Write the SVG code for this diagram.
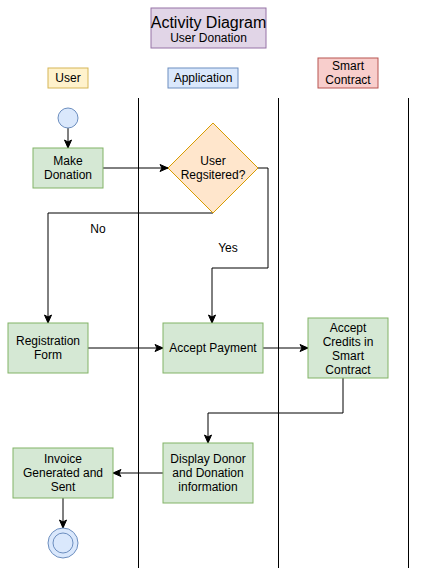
<svg xmlns="http://www.w3.org/2000/svg" width="422" height="582" viewBox="0 0 422 582">
<defs>
<style>
text{font-family:"Liberation Sans",Arial,sans-serif;font-size:12px;fill:#000;text-anchor:middle;dominant-baseline:central}
.act{fill:#d5e8d4;stroke:#82b366;stroke-width:1}
.lane{stroke:#000;stroke-width:1;fill:none}
.edge{stroke:#000;stroke-width:1;fill:none;marker-end:url(#arr)}
</style>
<marker id="arr" viewBox="0 0 10 10" refX="9" refY="5" markerWidth="10" markerHeight="10" markerUnits="userSpaceOnUse" orient="auto">
<path d="M1,1.5 L9,5 L1,8.5 L3,5 z" fill="#000" stroke="#000" stroke-width="1"/>
</marker>
</defs>
<rect width="422" height="582" fill="#fff"/>
<g id="title">
<rect x="151" y="8" width="115" height="40" fill="#e1d5e7" stroke="#9673a6"/>
<text x="208.5" y="22" style="font-size:16px">Activity Diagram</text>
<text x="208.5" y="37.5">User Donation</text>
</g>
<g id="lane-user">
<rect x="48" y="68" width="40" height="20" fill="#fff2cc" stroke="#d6b656"/>
<text x="68" y="78">User</text>
</g>
<g id="lane-application">
<rect x="168" y="68" width="70" height="20" fill="#dae8fc" stroke="#6c8ebf"/>
<text x="203" y="78">Application</text>
</g>
<g id="lane-smart-contract">
<rect x="318" y="58" width="60" height="30" fill="#f8cecc" stroke="#b85450"/>
<text x="348" y="65.5">Smart</text>
<text x="348" y="80">Contract</text>
</g>
<g id="lanes">
<line class="lane" x1="138.5" y1="98" x2="138.5" y2="568"/>
<line class="lane" x1="278.5" y1="98" x2="278.5" y2="568"/>
<line class="lane" x1="408.5" y1="98" x2="408.5" y2="568"/>
</g>
<g id="connectors">
<path class="edge" d="M68,128 L68,148"/>
<path class="edge" d="M103,168 L168,168"/>
<path class="edge" d="M258,168 L268,168 L268,268 L212,268 L212,323"/>
<path class="edge" d="M213,213 L48,213 L48,323"/>
<path class="edge" d="M88,348 L163,348"/>
<path class="edge" d="M263,348 L308,348"/>
<path class="edge" d="M343,378 L343,413 L208,413 L208,443"/>
<path class="edge" d="M163,473 L113,473"/>
<path class="edge" d="M63,498 L63,528"/>
<text x="98" y="229">No</text>
<text x="228" y="248">Yes</text>
</g>
<g id="start">
<circle cx="68" cy="118" r="10" fill="#dae8fc" stroke="#6c8ebf"/>
</g>
<g id="make-donation">
<rect class="act" x="33" y="148" width="70" height="40"/>
<text x="68" y="161">Make</text>
<text x="68" y="175">Donation</text>
</g>
<g id="user-registered">
<path d="M213,123 L258,168 L213,213 L168,168 Z" fill="#ffe6cc" stroke="#d79b00"/>
<text x="213" y="161">User</text>
<text x="213" y="175">Regsitered?</text>
</g>
<g id="registration-form">
<rect class="act" x="8" y="323" width="80" height="50"/>
<text x="48" y="341">Registration</text>
<text x="48" y="355">Form</text>
</g>
<g id="accept-payment">
<rect class="act" x="163" y="323" width="100" height="50"/>
<text x="213" y="348">Accept Payment</text>
</g>
<g id="accept-credits">
<rect class="act" x="308" y="318" width="80" height="60"/>
<text x="348" y="327.5">Accept</text>
<text x="348" y="341.5">Credits in</text>
<text x="348" y="355.5">Smart</text>
<text x="348" y="370">Contract</text>
</g>
<g id="display-donor">
<rect class="act" x="163" y="443" width="90" height="60"/>
<text x="208" y="459">Display Donor</text>
<text x="208" y="473">and Donation</text>
<text x="208" y="487">information</text>
</g>
<g id="invoice">
<rect class="act" x="13" y="448" width="100" height="50"/>
<text x="63" y="459">Invoice</text>
<text x="63" y="473">Generated and</text>
<text x="63" y="487">Sent</text>
</g>
<g id="end">
<circle cx="63" cy="543" r="15" fill="#dae8fc" stroke="#6c8ebf"/>
<circle cx="63" cy="543" r="10" fill="#dae8fc" stroke="#6c8ebf"/>
</g>
</svg>
